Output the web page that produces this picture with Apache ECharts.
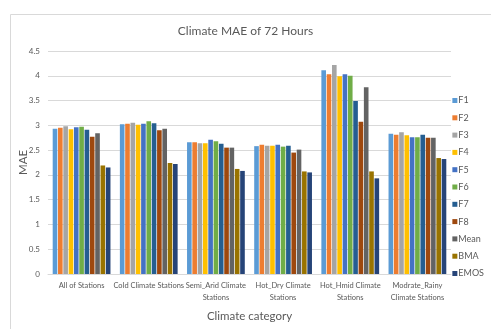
<!DOCTYPE html>
<html>
<head>
<meta charset="utf-8">
<script src="https://cdn.jsdelivr.net/npm/echarts@6/dist/echarts.min.js"></script>
<style>
  html, body { margin: 0; padding: 0; background: #ffffff; }
  #chart { width: 491px; height: 329px; }
</style>
</head>
<body>
<div id="chart"></div>
<script>
// Climate categories (x axis)
const categories = [
  'All of Stations',
  'Cold Climate Stations',
  'Semi_Arid Climate\nStations',
  'Hot_Dry Climate\nStations',
  'Hot_Hmid Climate\nStations',
  'Modrate_Rainy\nClimate Stations'
];

// MAE per forecast / post-processing method
const F1   = [2.93, 3.02, 2.66, 2.58, 4.11, 2.83];
const F2   = [2.95, 3.03, 2.66, 2.61, 4.03, 2.81];
const F3   = [2.98, 3.05, 2.64, 2.59, 4.22, 2.86];
const F4   = [2.92, 3.01, 2.64, 2.59, 3.99, 2.80];
const F5   = [2.96, 3.03, 2.71, 2.61, 4.03, 2.76];
const F6   = [2.97, 3.08, 2.68, 2.57, 4.00, 2.76];
const F7   = [2.91, 3.04, 2.63, 2.59, 3.49, 2.81];
const F8   = [2.77, 2.90, 2.55, 2.45, 3.07, 2.75];
const Mean = [2.84, 2.93, 2.55, 2.51, 3.77, 2.75];
const BMA  = [2.19, 2.24, 2.12, 2.07, 2.07, 2.34];
const EMOS = [2.15, 2.22, 2.08, 2.05, 1.93, 2.32];

const seriesNames = ['F1', 'F2', 'F3', 'F4', 'F5', 'F6', 'F7', 'F8', 'Mean', 'BMA', 'EMOS'];
const seriesData = [F1, F2, F3, F4, F5, F6, F7, F8, Mean, BMA, EMOS];
const palette = ['#5B9BD5', '#ED7D31', '#A5A5A5', '#FFC000', '#4472C4', '#70AD47',
                 '#255E91', '#9E480E', '#636363', '#997300', '#264478'];

const FONT = 'Lato, "Open Sans", sans-serif';
const TEXT = '#595959';

const chart = echarts.init(document.getElementById('chart'), null, { renderer: 'canvas' });

chart.setOption({
  animation: false,
  color: palette,
  textStyle: { fontFamily: FONT },
  graphic: [{
    type: 'rect',
    left: 8, top: 12,
    shape: { width: 495, height: 315 },
    style: { fill: 'none', stroke: '#d9d9d9', lineWidth: 1 },
    silent: true,
    z: -1
  }],
  title: {
    text: 'Climate MAE of 72 Hours',
    left: 'center',
    top: 20,
    textStyle: { fontFamily: FONT, fontSize: 12, fontWeight: 'normal', color: TEXT }
  },
  legend: {
    orient: 'vertical',
    right: 2,
    top: 91,
    itemWidth: 5,
    itemHeight: 5,
    itemGap: 8.3,
    icon: 'rect',
    textStyle: { fontFamily: FONT, fontSize: 9, color: TEXT, padding: [0, 0, 0, -4] },
    data: seriesNames
  },
  grid: { left: 48, right: 40, top: 51, bottom: 55 },
  xAxis: {
    type: 'category',
    data: categories,
    name: 'Climate category',
    nameLocation: 'middle',
    nameGap: 36,
    nameTextStyle: { fontFamily: FONT, fontSize: 11.5, color: TEXT },
    axisLine: { lineStyle: { color: '#d9d9d9' } },
    axisTick: { show: false },
    axisLabel: { fontFamily: FONT, fontSize: 7.5, color: TEXT, margin: 6, lineHeight: 12, interval: 0 }
  },
  yAxis: {
    type: 'value',
    min: 0,
    max: 4.5,
    interval: 0.5,
    name: 'MAE',
    nameLocation: 'middle',
    nameGap: 19,
    nameMoveOverlap: false,
    nameTextStyle: { fontFamily: FONT, fontSize: 11.5, color: TEXT },
    axisLine: { show: false },
    axisTick: { show: false },
    axisLabel: { fontFamily: FONT, fontSize: 8, color: TEXT, margin: 8 },
    splitLine: { lineStyle: { color: '#d9d9d9' } }
  },
  series: seriesNames.map((name, i) => ({
    name: name,
    type: 'bar',
    data: seriesData[i],
    barGap: '15%',
    barCategoryGap: '14%'
  }))
});
</script>
</body>
</html>
